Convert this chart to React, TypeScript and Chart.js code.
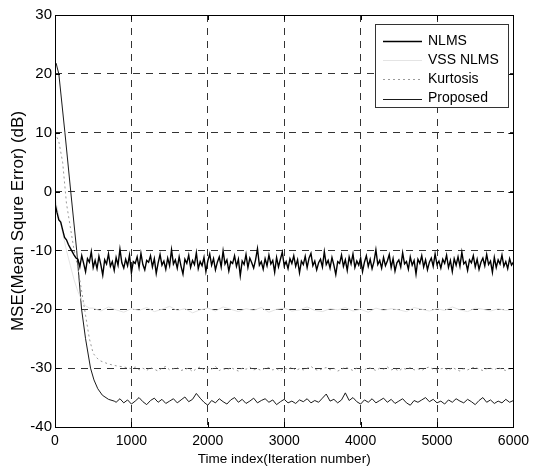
import React, { useEffect, useRef } from "react";
import { Chart, registerables } from "chart.js";

Chart.register(...registerables);

// ---------- axis ticks ----------
const X_TICKS = [0, 1000, 2000, 3000, 4000, 5000, 6000];
const Y_TICKS = [30, 20, 10, 0, -10, -20, -30, -40];

// ---------- series names ----------
const SERIES_NAMES = ["NLMS", "VSS NLMS", "Kurtosis", "Proposed"];

// ---------- NLMS (every 25 iterations, 0..6000) ----------
const NLMS_STEP = 25;
const NLMS_VALUES = [
  -2, -3.5, -4.8, -5.2, -6.5, -7.8, -8.2, -9, -9.6, -10.2, -10.8, -11.3,
  -11.5, -12.8, -10.9, -12.2, -13.6, -11.4, -12.0, -10.2, -12.9, -11.7, -13.1, -11.0, -12.4, -14.2, -11.6, -12.3, -10.6, -12.7, -11.9, -13.4,
  -11.2, -12.5, -9.8, -12.1, -13.0, -11.5, -12.6, -10.8, -13.8, -11.9, -12.2, -11.1, -12.9, -10.5, -12.4, -13.3, -11.7, -12.0, -10.9, -12.8,
  -11.4, -13.9, -12.1, -10.7, -12.5, -11.8, -13.2, -11.3, -12.6, -9.9, -12.3, -11.6, -13.0, -11.1, -12.7, -14.0, -11.5, -12.2, -10.8, -12.9,
  -11.7, -12.4, -10.4, -13.1, -11.9, -12.6, -11.2, -13.6, -11.8, -10.6, -12.5, -11.4, -13.3, -12.0, -11.1, -12.8, -10.1, -12.3, -11.6, -13.5,
  -11.9, -12.2, -10.9, -12.7, -11.5, -14.3, -11.8, -12.4, -10.7, -12.9, -11.3, -12.1, -13.0, -11.6, -9.7, -12.5, -11.9, -13.2, -11.4, -12.6,
  -10.8, -12.3, -11.7, -13.7, -11.2, -12.8, -11.5, -10.3, -12.6, -11.9, -13.1, -11.4, -12.2, -10.9, -12.7, -11.6, -13.8, -11.8, -12.4, -11.0,
  -12.9, -11.3, -10.5, -12.6, -11.8, -13.3, -12.1, -11.5, -12.8, -10.2, -12.4, -11.7, -13.0, -11.2, -12.5, -14.1, -11.9, -12.2, -10.8, -12.7,
  -11.6, -13.4, -11.1, -12.3, -10.6, -12.9, -11.8, -12.5, -11.3, -13.6, -12.0, -10.9, -12.7, -11.5, -13.1, -11.9, -9.9, -12.4, -11.7, -13.0,
  -11.2, -12.6, -11.8, -10.7, -12.9, -11.4, -13.5, -12.1, -11.6, -12.8, -10.4, -12.3, -11.9, -13.2, -11.1, -12.5, -11.7, -14.0, -11.5, -12.2,
  -10.9, -12.8, -11.6, -13.3, -12.0, -11.3, -12.7, -10.6, -12.4, -11.8, -13.0, -11.5, -12.2, -10.8, -12.9, -11.7, -13.6, -11.4, -12.5, -11.1,
  -12.7, -10.3, -12.3, -11.9, -13.4, -11.6, -12.1, -10.9, -12.8, -11.5, -13.2, -12.0, -11.3, -12.6, -10.7, -12.4, -11.8, -13.7, -11.2, -12.9,
  -11.6, -12.3, -10.8, -12.7, -11.9, -13.1, -11.4, -12.5, -12.0,
];

// ---------- VSS NLMS ----------
const VSS_EARLY_ITER = [0, 50, 100, 150, 200, 250, 300, 350, 400, 450];
const VSS_EARLY_VAL = [-1, -4, -7, -10, -12.5, -15, -17, -18.5, -19.4, -19.8];
const VSS_STEADY_START = 500;
const VSS_STEADY_STEP = 100;
const VSS_STEADY_VAL = [
  -19.8, -20.3, -19.6, -20.1, -20.5, -19.9, -20.2, -19.7, -20.4, -20.0,
  -19.5, -20.2, -19.9, -20.6, -20.1, -19.8, -20.3, -19.6, -20.0, -20.4,
  -19.9, -20.2, -19.7, -20.5, -20.0, -19.8, -20.3, -20.1, -19.6, -20.2,
  -20.4, -19.9, -20.1, -19.7, -20.3, -20.0, -20.5, -19.8, -20.2, -19.9,
  -20.1, -20.4, -19.7, -20.0, -20.3, -19.9, -20.2, -19.6, -20.1, -20.4,
  -19.8, -20.0, -20.3, -19.9, -20.2, -20.0,
];

// ---------- Kurtosis ----------
const KURT_EARLY_ITER = [0, 50, 100, 150, 200, 250, 300, 350, 400, 450, 500, 550, 600, 700, 800, 900];
const KURT_EARLY_VAL = [10, 8.5, 5, -2, -6, -10, -13, -17, -21, -25, -27.5, -28.3, -28.8, -29.3, -29.6, -29.8];
const KURT_STEADY_START = 1000;
const KURT_STEADY_STEP = 50;
const KURT_STEADY_VAL = [
  -30.1, -29.8, -30.3, -30.0, -30.4, -29.9, -30.2, -30.5, -30.0, -29.7,
  -30.3, -30.1, -29.9, -30.4, -30.2, -30.0, -30.6, -30.1, -29.8, -30.3,
  -30.0, -30.2, -29.7, -30.4, -30.1, -30.3, -29.9, -30.2, -30.5, -30.0,
  -30.2, -29.8, -30.3, -30.1, -30.4, -30.0, -29.9, -30.3, -30.1, -30.5,
  -30.0, -30.2, -29.8, -30.4, -30.1, -30.3, -30.0, -29.7, -30.2, -30.4,
  -30.1, -29.9, -30.3, -30.0, -30.5, -30.2, -29.8, -30.1, -30.4, -30.0,
  -30.2, -30.3, -29.9, -30.1, -30.4, -30.0, -30.2, -29.8, -30.3, -30.1,
  -30.5, -30.0, -30.2, -29.9, -30.3, -30.1, -30.4, -30.0, -29.8, -30.2,
  -30.3, -30.1, -30.0, -30.4, -29.9, -30.2, -30.5, -30.1, -30.3, -30.0,
  -29.8, -30.2, -30.4, -30.1, -30.0, -30.3, -29.9, -30.2, -30.4, -30.1,
  -30.2,
];

// ---------- Proposed ----------
const PROP_EARLY_ITER = [0, 15, 30, 50, 130, 206, 284, 348, 400, 465, 510, 560, 620, 700, 775];
const PROP_EARLY_VAL = [22, 21.8, 21, 20, 10, 0, -10, -20, -25, -30, -32, -33.5, -34.6, -35.3, -35.6];
const PROP_STEADY_START = 800;
const PROP_STEADY_STEP = 50;
const PROP_STEADY_VAL = [
  -35.8, -35.2, -35.9, -35.4, -36.1, -35.6, -35.0, -35.7, -36.2, -35.5,
  -35.1, -35.8, -35.3, -36.0, -35.6, -35.2, -35.9, -35.4, -34.9, -35.7,
  -35.3, -34.3, -35.1, -35.8, -36.3, -35.5, -35.9, -35.2, -35.7, -36.1,
  -35.4, -35.0, -35.8, -35.3, -36.0, -35.6, -35.1, -35.9, -35.5, -35.2,
  -35.8, -35.4, -36.2, -35.7, -35.3, -35.9, -35.6, -36.0, -35.4, -35.7,
  -35.2, -35.9, -35.5, -35.8, -35.1, -34.4, -35.6, -35.3, -35.9, -35.4,
  -34.2, -35.5, -35.0, -35.7, -36.1, -35.4, -35.8, -35.2, -35.9, -35.5,
  -35.1, -35.8, -35.3, -36.0, -35.6, -35.2, -35.9, -36.3, -35.5, -35.8,
  -35.4, -35.0, -35.7, -35.3, -35.9, -35.6, -36.1, -35.4, -35.8, -35.2,
  -35.6, -35.9, -35.3, -35.7, -36.2, -35.5, -35.0, -35.8, -35.4, -36.0,
  -35.6, -35.9, -35.3, -35.8, -35.5,
];

type Pt = { x: number; y: number };

function buildSeries(
  earlyIter: number[],
  earlyVal: number[],
  start: number,
  step: number,
  steady: number[]
): Pt[] {
  const pts: Pt[] = earlyIter.map((x, i) => ({ x, y: earlyVal[i] }));
  steady.forEach((v, i) => pts.push({ x: start + i * step, y: v }));
  return pts;
}

const STYLES = [
  { color: "#000000", width: 1.4, dash: [] as number[] },
  { color: "#e4e4e4", width: 1, dash: [] as number[] },
  { color: "#9a9a9a", width: 1, dash: [2, 3] },
  { color: "#1a1a1a", width: 1, dash: [] as number[] },
];

const FONT = "'Liberation Sans', Arial, Helvetica, sans-serif";

const framePlugin = {
  id: "matlabFrame",
  afterDraw(chart: any) {
    const { ctx, chartArea } = chart;
    const { left, right, top, bottom } = chartArea;
    const xs = chart.scales.x;
    const ys = chart.scales.y;
    ctx.save();
    ctx.strokeStyle = "#000";
    ctx.lineWidth = 1;
    ctx.setLineDash([]);
    ctx.strokeRect(Math.round(left) + 0.5, Math.round(top) + 0.5, Math.round(right - left), Math.round(bottom - top));
    const tl = 5;
    ctx.beginPath();
    X_TICKS.forEach((t) => {
      const px = Math.round(xs.getPixelForValue(t)) + 0.5;
      ctx.moveTo(px, bottom);
      ctx.lineTo(px, bottom - tl);
      ctx.moveTo(px, top);
      ctx.lineTo(px, top + tl);
    });
    Y_TICKS.forEach((t) => {
      const py = Math.round(ys.getPixelForValue(t)) + 0.5;
      ctx.moveTo(left, py);
      ctx.lineTo(left + tl, py);
      ctx.moveTo(right, py);
      ctx.lineTo(right - tl, py);
    });
    ctx.stroke();

    // legend
    const bx = 375, by = 24, bw = 133, bh = 83;
    ctx.fillStyle = "#fff";
    ctx.fillRect(bx, by, bw, bh);
    ctx.strokeStyle = "#333";
    ctx.strokeRect(bx + 0.5, by + 0.5, bw, bh);
    ctx.font = `14px ${FONT}`;
    ctx.textBaseline = "middle";
    ctx.textAlign = "left";
    SERIES_NAMES.forEach((name, i) => {
      const y = 41 + i * 19.2;
      const s = STYLES[i];
      ctx.strokeStyle = s.color;
      ctx.lineWidth = s.width;
      ctx.setLineDash(s.dash);
      ctx.beginPath();
      ctx.moveTo(383, Math.round(y) + 0.5);
      ctx.lineTo(422, Math.round(y) + 0.5);
      ctx.stroke();
      ctx.setLineDash([]);
      ctx.fillStyle = "#000";
      ctx.fillText(name, 428, y);
    });
    ctx.restore();
  },
};

export default function App() {
  const canvasRef = useRef<HTMLCanvasElement | null>(null);

  useEffect(() => {
    document.body.style.margin = "0";
    const canvas = canvasRef.current;
    if (!canvas) return;

    const nlms: Pt[] = NLMS_VALUES.map((v, i) => ({ x: i * NLMS_STEP, y: v }));
    const vss = buildSeries(VSS_EARLY_ITER, VSS_EARLY_VAL, VSS_STEADY_START, VSS_STEADY_STEP, VSS_STEADY_VAL);
    const kurt = buildSeries(KURT_EARLY_ITER, KURT_EARLY_VAL, KURT_STEADY_START, KURT_STEADY_STEP, KURT_STEADY_VAL);
    const prop = buildSeries(PROP_EARLY_ITER, PROP_EARLY_VAL, PROP_STEADY_START, PROP_STEADY_STEP, PROP_STEADY_VAL);
    const all = [nlms, vss, kurt, prop];

    const chart = new Chart(canvas, {
      type: "line",
      data: {
        datasets: all.map((d, i) => ({
          label: SERIES_NAMES[i],
          data: d,
          borderColor: STYLES[i].color,
          borderWidth: STYLES[i].width,
          borderDash: STYLES[i].dash,
          pointRadius: 0,
          tension: 0,
          fill: false,
        })),
      },
      options: {
        animation: false,
        responsive: false,
        devicePixelRatio: 1,
        layout: { padding: { left: 0, right: 15, top: 15, bottom: 0 } },
        plugins: { legend: { display: false }, tooltip: { enabled: false } },
        scales: {
          x: {
            type: "linear",
            min: 0,
            max: 6000,
            afterBuildTicks: (scale: any) => {
              scale.ticks = X_TICKS.map((v) => ({ value: v }));
            },
            afterFit: (scale: any) => {
              scale.height = 42;
            },
            ticks: {
              color: "#000",
              font: { family: FONT, size: 14 },
              padding: 6,
              maxRotation: 0,
              autoSkip: false,
              callback: (v: any) => String(v),
            },
            grid: { color: "#333", lineWidth: 1, drawTicks: false },
            border: { display: false, dash: [7, 6] },
            title: {
              display: true,
              text: "Time index(Iteration number)",
              color: "#000",
              font: { family: FONT, size: 13.5 },
              padding: { top: 0, bottom: 2 },
            },
          },
          y: {
            type: "linear",
            min: -40,
            max: 30,
            afterBuildTicks: (scale: any) => {
              scale.ticks = Y_TICKS.map((v) => ({ value: v }));
            },
            afterFit: (scale: any) => {
              scale.width = 55;
            },
            ticks: {
              color: "#000",
              font: { family: FONT, size: 15 },
              padding: 3,
              autoSkip: false,
              callback: (v: any) => String(v),
            },
            grid: { color: "#333", lineWidth: 1, drawTicks: false },
            border: { display: false, dash: [7, 6] },
            title: {
              display: true,
              text: "MSE(Mean Squre Error) (dB)",
              color: "#000",
              font: { family: FONT, size: 17 },
              padding: { top: 8, bottom: 0 },
            },
          },
        },
      },
      plugins: [framePlugin],
    });

    return () => chart.destroy();
  }, []);

  return (
    <div style={{ width: 535, height: 469, background: "#fff" }}>
      <canvas ref={canvasRef} width={535} height={469} style={{ display: "block" }} />
    </div>
  );
}
